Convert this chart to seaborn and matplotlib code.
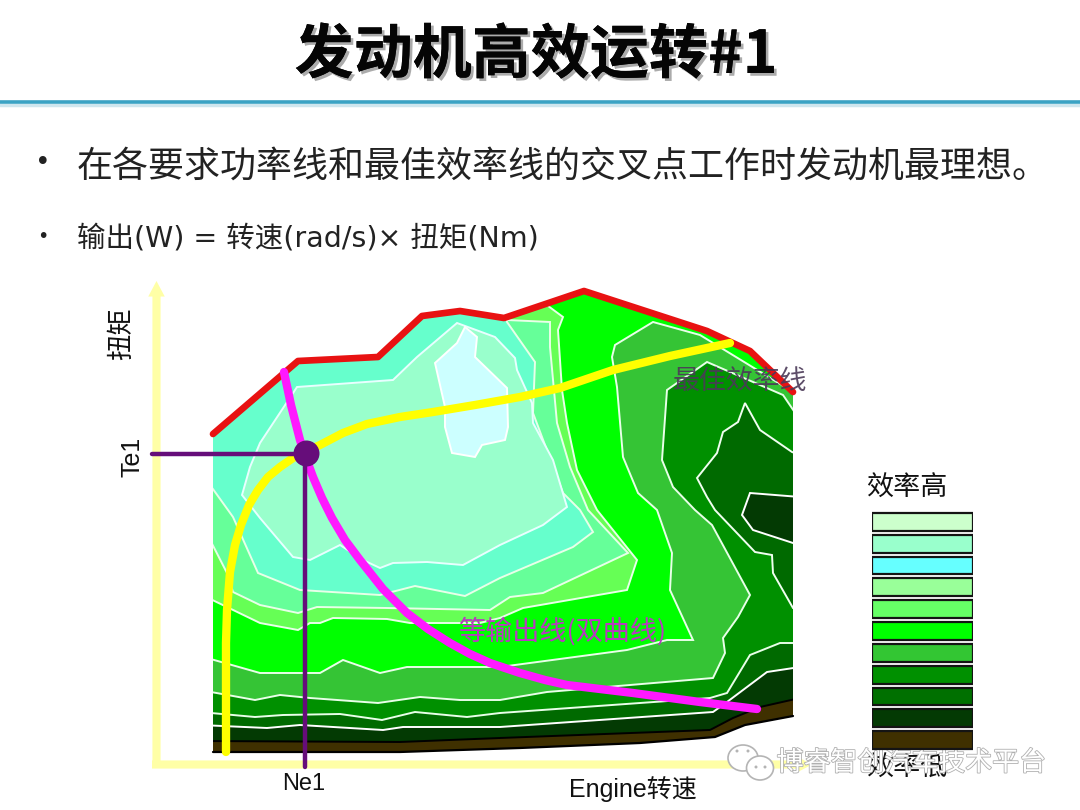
# Engine efficiency map slide, values in image units (y downwards)
import pandas as pd
import matplotlib.pyplot as plt
import matplotlib.patheffects as pe
from matplotlib.patches import Ellipse
import seaborn as sns

title = '发动机高效运转#1'
bullet1 = '在各要求功率线和最佳效率线的交叉点工作时发动机最理想。'
bullet2 = '输出(W) = 转速(rad/s)× 扭矩(Nm)'
watermark = '博睿智创汽车技术平台'

# outline of the map
map_outline = [(213, 434), (298, 361), (378, 357), (422, 316), (460, 311), (504, 318), (584, 291),
               (707, 331), (750, 351), (793, 392), (793, 716), (745, 725), (715, 737), (640, 743),
               (520, 748), (400, 752), (213, 752)]
map_bottom = [(213, 752), (400, 752), (520, 748), (640, 743), (715, 737), (745, 725), (793, 716)]

# contour lines, lowest level first. Each level fills everything above its line
top_corners = [(800, 280), (200, 280)]
line_darkest = [(200, 741), (400, 742), (500, 738), (710, 730), (733, 718), (760, 707), (800, 698)]
line_b = [(200, 725), (267, 728), (300, 725), (383, 730), (403, 727), (500, 727), (713, 712),
          (727, 702), (767, 672), (800, 667)]
line_a = [(200, 712), (255, 717), (283, 715), (340, 714), (382, 720), (415, 712), (467, 717),
          (500, 713), (710, 698), (727, 693), (750, 655), (780, 643), (800, 643)]
line_c = [(200, 690), (255, 700), (280, 695), (310, 698), (378, 703), (420, 697), (460, 700),
          (500, 700), (547, 692), (713, 678), (725, 653), (723, 638), (738, 617), (750, 595),
          (712, 525), (695, 510), (673, 487), (662, 460), (667, 390), (707, 362), (783, 395),
          (800, 420)]
line_d = [(200, 656), (260, 673), (320, 673), (343, 660), (380, 673), (407, 667), (500, 667),
          (627, 650), (667, 640), (693, 640), (670, 590), (672, 553), (657, 510), (638, 493),
          (623, 457), (617, 387), (612, 357), (615, 345), (653, 322), (700, 335), (790, 390),
          (800, 385)]
line_e = [(200, 594), (260, 623), (298, 630), (310, 623), (320, 623), (333, 618), (387, 619),
          (410, 623), (480, 623), (500, 618), (523, 608), (627, 590), (637, 560), (597, 510),
          (577, 470), (567, 423), (562, 390), (558, 330), (563, 317), (540, 300)]
line_f = [(205, 530), (227, 573), (233, 592), (260, 605), (298, 613), (317, 607), (387, 608),
          (490, 610), (510, 597), (543, 593), (628, 553), (588, 510), (570, 467), (557, 423),
          (550, 347), (550, 322), (507, 320), (505, 300)]
line_g = [(205, 478), (233, 517), (258, 573), (300, 590), (380, 595), (415, 586), (465, 596),
          (500, 578), (573, 547), (593, 532), (580, 510), (563, 493), (533, 413), (535, 362),
          (507, 322), (505, 300)]
line_h = [(297, 387), (393, 380), (417, 357), (457, 323), (495, 337), (515, 358), (517, 370),
          (532, 403), (533, 423), (553, 460), (567, 507), (543, 525), (500, 545), (463, 565),
          (427, 562), (393, 563), (380, 568), (363, 560), (340, 545), (310, 560), (293, 557),
          (260, 518), (242, 495), (250, 467), (260, 443)]
island_light = [(465, 327), (477, 337), (475, 357), (507, 388), (508, 427), (505, 440), (482, 445),
                (475, 457), (452, 453), (445, 427), (445, 407), (435, 363), (457, 343)]
island_dark = [(745, 403), (738, 422), (723, 432), (717, 453), (697, 478), (707, 497), (715, 510),
               (755, 552), (772, 555), (773, 573), (793, 608), (800, 608), (800, 455), (792, 452),
               (760, 430)]
island_darkest = [(750, 493), (800, 497), (800, 546), (793, 543), (753, 530), (742, 515)]

color_brown = '#3f3000'
color_darkest = '#033a03'
color_b = '#006a00'
color_a = '#009000'
color_c = '#35c435'
color_d = '#00ff00'
color_e = '#66ff55'
color_f = '#66ff99'
color_g = '#66ffcc'
color_h = '#99ffcc'
color_light = '#ccffff'

# thick curves
full_load = [(213, 434), (298, 361), (378, 357), (422, 316), (460, 311), (504, 318), (584, 291),
             (707, 331), (750, 351), (793, 392)]
best_line = [(226, 752), (226, 680), (226, 643), (227, 610), (230, 572), (235, 545), (241, 525),
             (249, 505), (258, 490), (268, 477), (280, 467), (293, 458), (307, 451), (320, 445),
             (343, 433), (367, 424), (400, 417), (433, 412), (475, 405), (520, 397), (560, 388),
             (613, 370), (670, 356), (730, 343)]
power_line = [(284, 372), (291, 405), (300, 440), (306, 458), (313, 477), (322, 498), (332, 518),
              (345, 540), (360, 560), (383, 589), (407, 613), (428, 629), (450, 643), (470, 654),
              (490, 663), (520, 673), (545, 680), (567, 685), (600, 689), (633, 693), (700, 702),
              (757, 709)]
te1_line = [(152, 454), (306, 454)]
ne1_line = [(305, 454), (305, 767)]
op_point = [(306, 453)]

# legend
levels = ['效率高', 'l2', 'l3', 'l4', 'l5', 'l6', 'l7', 'l8', 'l9', 'l10', '效率低']
level_width = [1] * 11
level_colors = ['#ccffcc', '#99ffcc', '#66ffff', '#99ff99', '#66ff66', '#00ff00',
                '#33c633', '#009000', '#007000', '#033a03', '#3f3000']

sns.set_theme(style='white')
plt.rcParams['font.family'] = ['Noto Sans CJK SC', 'DejaVu Sans']
latin_cjk = ['DejaVu Sans', 'Noto Sans CJK SC']


def xy(points):
    return pd.DataFrame(points, columns=['x', 'y'])


def curve(points, color, width, z):
    d = xy(points)
    sns.lineplot(data=d, x='x', y='y', sort=False, estimator=None, color=color, linewidth=width,
                 solid_capstyle='round', solid_joinstyle='round', zorder=z, ax=ax)


fig = plt.figure(figsize=(10.8, 8.1), dpi=100)
ax = fig.add_axes([0, 0, 1, 1])
ax.set_xlim(0, 1080)
ax.set_ylim(810, 0)
ax.axis('off')

# header
ax.text(536, 56, title, ha='center', va='center', fontsize=42.5, fontweight='bold', color='#050505',
        path_effects=[pe.withSimplePatchShadow(offset=(2, -2), shadow_rgbFace='#888888', alpha=0.7), pe.Normal()])
ax.axhline(105, color='#cfe6ee', linewidth=2.5)
ax.axhline(101.5, color='#3ba3c4', linewidth=2.6)

ax.text(43, 163, '•', ha='center', va='center', fontsize=19, color='#222222', family='DejaVu Sans')
ax.text(77, 167, bullet1, ha='left', va='center', fontsize=25.9, color='#222222')
ax.text(43, 236, '•', ha='center', va='center', fontsize=14, color='#222222', family='DejaVu Sans')
ax.text(77, 238, bullet2, ha='left', va='center', fontsize=20.5, color='#222222', family=latin_cjk)

# axes arrows
for start, end in [((156.5, 768), (156.5, 281)), ((152, 764.5), (812, 764.5))]:
    ax.annotate('', xy=end, xytext=start, zorder=2,
                arrowprops=dict(arrowstyle='simple,tail_width=0.42,head_width=0.85,head_length=0.8',
                                mutation_scale=14, color='#ffffa6', shrinkA=0, shrinkB=0, lw=0))

# map, painted from the lowest level upwards
outline = ax.fill(*zip(*map_outline), color=color_brown, lw=0, zorder=3)[0]
layers = [(line_darkest + top_corners, color_darkest, 'black'),
          (line_b + top_corners, color_b, 'white'),
          (line_a + top_corners, color_a, '#e8ffe8'),
          (island_dark, color_b, '#f0fff0'),
          (island_darkest, color_darkest, 'white'),
          (line_c + top_corners, color_c, '#e8ffe8'),
          (line_d + top_corners, color_d, '#e8ffe8'),
          (line_e + top_corners[1:], color_e, '#e8ffe8'),
          (line_f + top_corners[1:], color_f, '#e8ffe8'),
          (line_g + top_corners[1:], color_g, '#e8ffe8'),
          (line_h, color_h, '#e8ffff'),
          (island_light, color_light, 'white')]
for points, color, edge in layers:
    poly = ax.fill(*zip(*points), facecolor=color, edgecolor=edge, linewidth=1.4, zorder=3)[0]
    poly.set_clip_path(outline)

curve(map_bottom, 'black', 1.6, 3.5)
curve(full_load, '#e81212', 4.8, 4)
curve(power_line, '#ff18ff', 6, 5)
curve(best_line, '#ffff00', 6, 5.2)
curve(te1_line, '#660d7a', 3.2, 5.4)
curve(ne1_line, '#660d7a', 3.2, 5.4)
ops = xy(op_point)
sns.scatterplot(data=ops, x='x', y='y', s=350, color='#660d7a', linewidth=0, zorder=5.6, ax=ax)
ax.set_xlabel('')
ax.set_ylabel('')

# labels
ax.text(122, 334, '扭矩', rotation=90, ha='center', va='center', fontsize=19, color='#111111')
ax.text(132, 457, 'Te1', rotation=90, ha='center', va='center', fontsize=18, color='#111111', family='Liberation Sans')
ax.text(304, 784, 'Ne1', ha='center', va='center', fontsize=17, color='#111111', family='Liberation Sans')
ax.text(633, 789, 'Engine转速', ha='center', va='center', fontsize=18, color='#111111',
        family=['Liberation Sans', 'Noto Sans CJK SC'])
ax.text(740, 381, '最佳效率线', ha='center', va='center', fontsize=19.4, color='#4b3a58', alpha=0.9, zorder=4.5)
ax.text(562, 631, '等输出线(双曲线)', ha='center', va='center', fontsize=19.5, color='#b83ac0', zorder=6)

# watermark
ax.text(911, 763, watermark, ha='center', va='center', fontsize=19.4, color='white', zorder=9,
        path_effects=[pe.withStroke(linewidth=1.2, foreground='#b0b0b0')])
for cx, cy, w, h in [(743, 758, 30, 26), (760, 768, 27, 24)]:
    ax.add_patch(Ellipse((cx, cy), w, h, facecolor='white', edgecolor='#b4b4b4', linewidth=1.2, zorder=7))
for cx, cy in [(737, 751), (748, 751), (756, 767), (765, 767)]:
    ax.add_patch(Ellipse((cx, cy), 3, 3, facecolor='#b4b4b4', linewidth=0, zorder=7))

# efficiency legend
ax.text(907, 488, '效率高', ha='center', va='center', fontsize=19.5, color='#111111')
ax.text(907, 768, '效率低', ha='center', va='center', fontsize=19.5, color='#111111', zorder=8)
leg = fig.add_axes([872 / 1080, 1 - 751 / 810, 101 / 1080, 240 / 810])
legend_df = pd.DataFrame({'level': levels, 'width': level_width})
sns.barplot(data=legend_df, x='width', y='level', hue='level', palette=level_colors, width=0.82,
            saturation=1, dodge=False, legend=False, edgecolor='#141414', linewidth=1.6, ax=leg)
leg.set_xlim(0, 1)
leg.axis('off')

fig.savefig('out.png', dpi=100)
